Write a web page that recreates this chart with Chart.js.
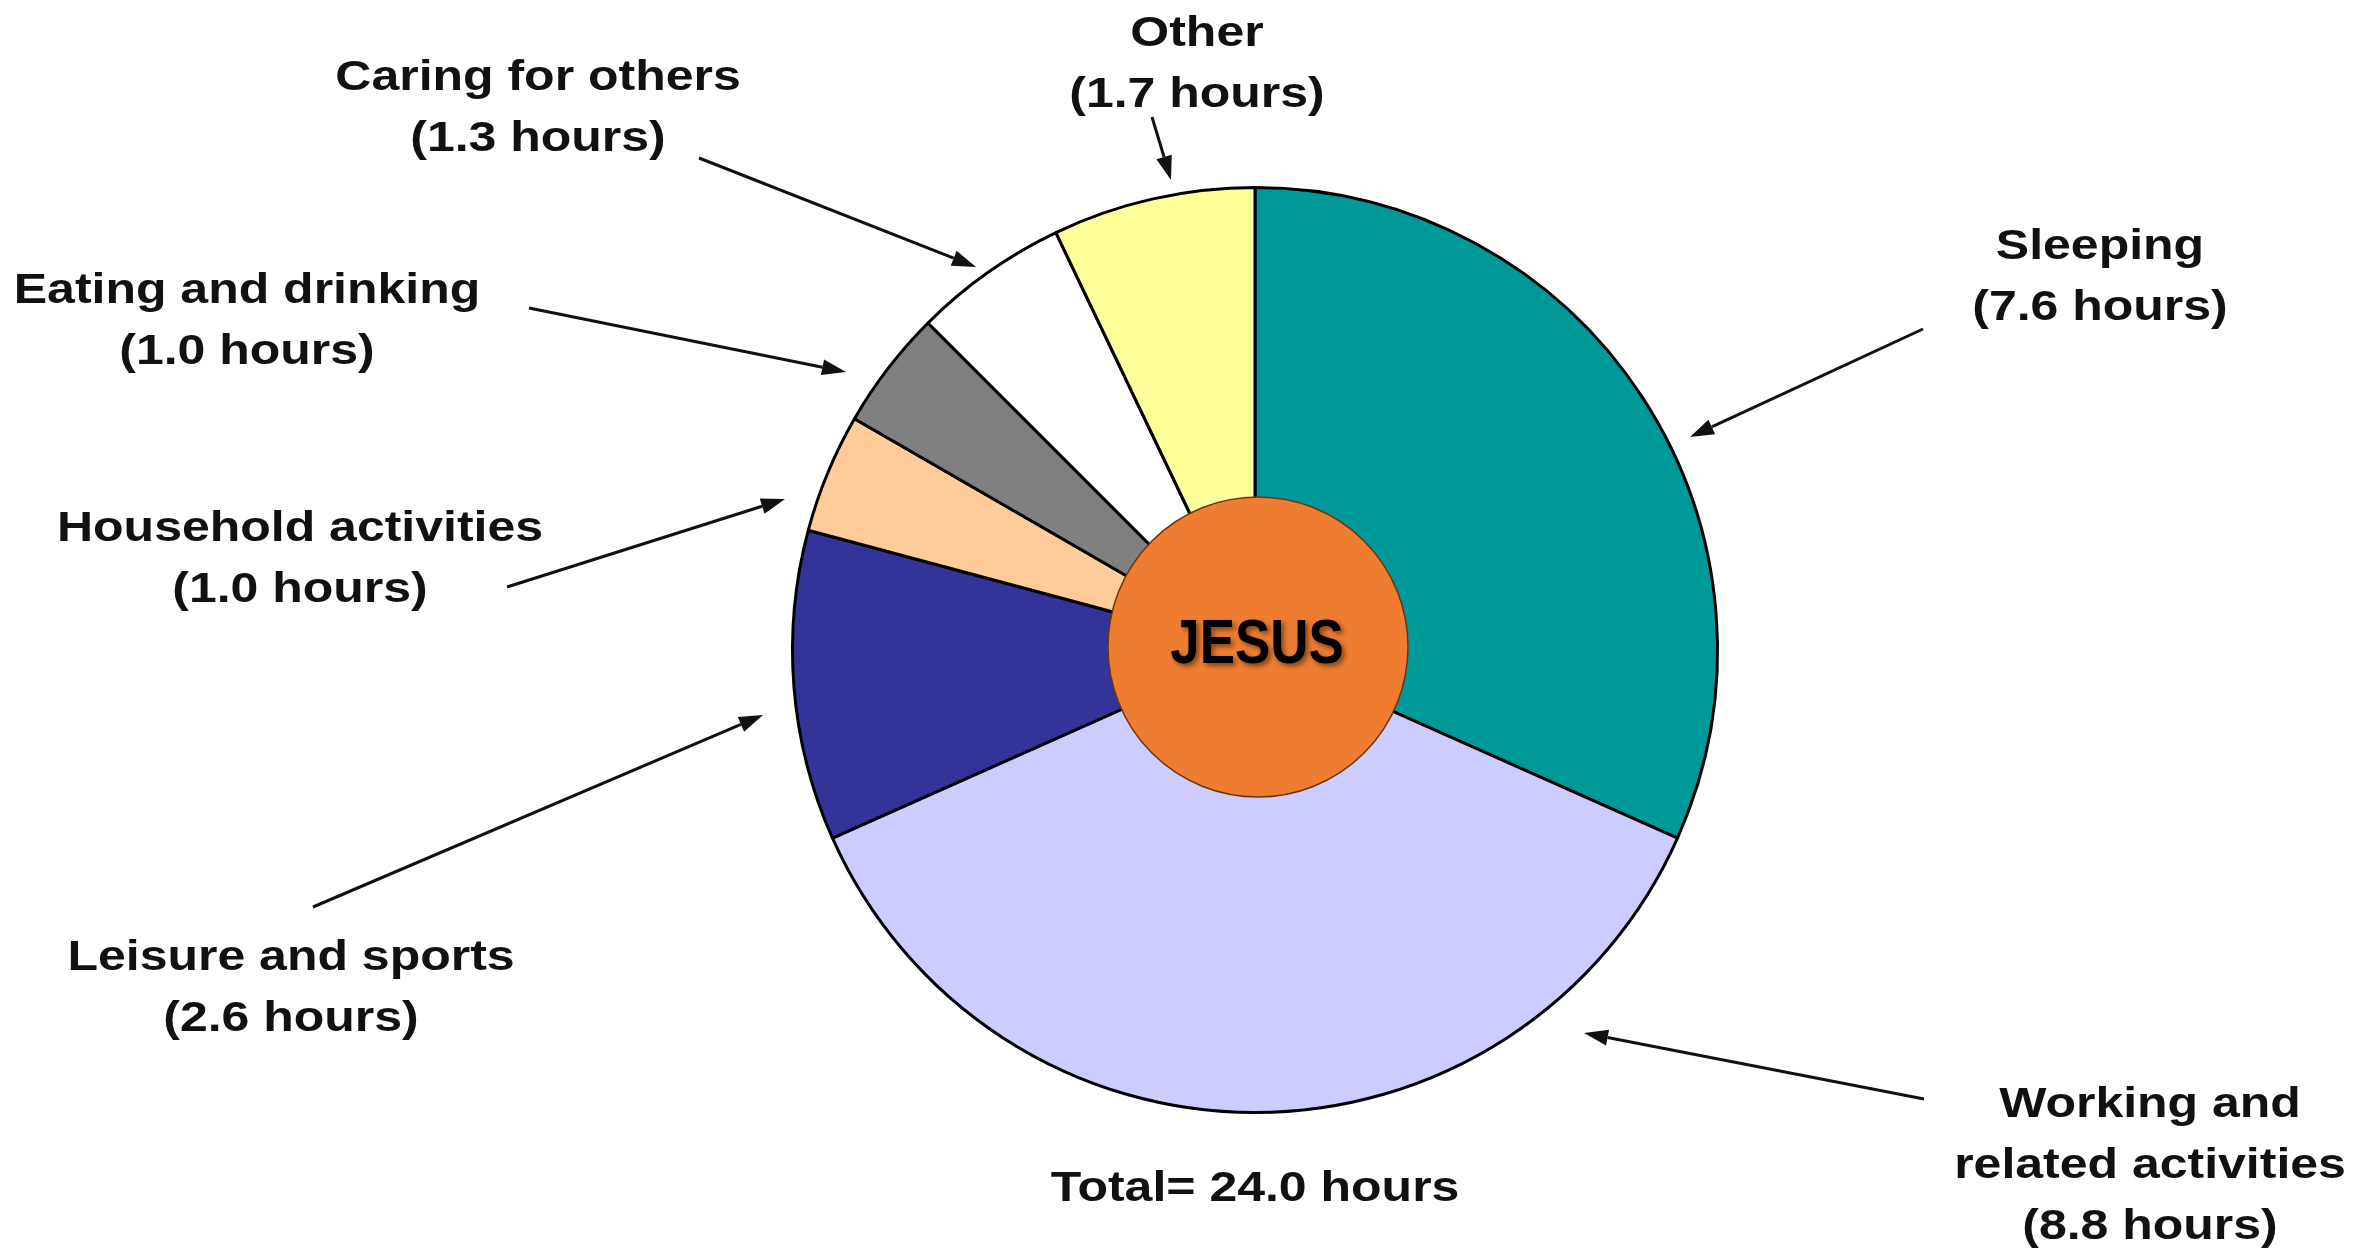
<!DOCTYPE html>
<html>
<head>
<meta charset="utf-8">
<script src="https://cdn.jsdelivr.net/npm/chart.js@4/dist/chart.umd.min.js"></script>
<style>
  html, body { margin:0; padding:0; background:#fff; }
  #wrap { width:2380px; height:1250px; position:relative; }
</style>
</head>
<body>
<div id="wrap"><canvas id="pie" width="2380" height="1250"></canvas></div>
<script>
// data, clockwise from 12 o'clock
const categories = ['Sleeping', 'Working and related activities', 'Leisure and sports',
  'Household activities', 'Eating and drinking', 'Caring for others', 'Other'];
const hours = [7.6, 8.8, 2.6, 1.0, 1.0, 1.3, 1.7];
const sliceColors = ['#009999', '#CCCCFF', '#333399', '#FFCC99', '#808080', '#FFFFFF', '#FFFF99'];
// how each label wraps on the picture
const labelLines = [['Sleeping'], ['Working and', 'related activities'], ['Leisure and sports'],
  ['Household activities'], ['Eating and drinking'], ['Caring for others'], ['Other']];
const centerText = 'JESUS';

// label placement (centre x, y of first line) and arrow from -> tip, per category
const callouts = [
  { x:2100, y:247,  from:[1923,329], to:[1690,437] },
  { x:2150, y:1105, from:[1924,1099], to:[1584,1033] },
  { x:291,  y:958,  from:[313,907],  to:[763,715] },
  { x:300,  y:529,  from:[507,587],  to:[785,499] },
  { x:247,  y:291,  from:[529,308],  to:[846,372] },
  { x:538,  y:78,   from:[699,158],  to:[976,267] },
  { x:1197, y:34,   from:[1152,117], to:[1171,180] }
];

const total = hours.reduce((a,b)=>a+b, 0);
const LINE = 61;

function drawText(ctx, txt, x, y, size, sx){
  ctx.save();
  ctx.translate(x, y);
  ctx.scale(sx, 1);
  ctx.font = 'bold ' + size + 'px "Liberation Sans", Arial, sans-serif';
  ctx.textAlign = 'center';
  ctx.textBaseline = 'middle';
  ctx.fillText(txt, 0, 0);
  ctx.restore();
}

function arrow(ctx, a, b){
  const ang = Math.atan2(b[1]-a[1], b[0]-a[0]);
  const len = 24, half = 8;
  const bx = b[0] - Math.cos(ang)*len, by = b[1] - Math.sin(ang)*len;
  ctx.beginPath();
  ctx.moveTo(a[0], a[1]);
  ctx.lineTo(bx, by);
  ctx.stroke();
  ctx.beginPath();
  ctx.moveTo(b[0], b[1]);
  ctx.lineTo(bx + Math.sin(ang)*half, by - Math.cos(ang)*half);
  ctx.lineTo(bx - Math.sin(ang)*half, by + Math.cos(ang)*half);
  ctx.closePath();
  ctx.fill();
}

const calloutPlugin = {
  id:'callouts',
  afterDatasetsDraw(chart){
    const ctx = chart.ctx;
    const arc = chart.getDatasetMeta(0).data[0];
    const cx = arc.x, cy = arc.y;

    // centre disc
    ctx.save();
    ctx.beginPath();
    ctx.arc(cx + 3, cy - 3, 150, 0, Math.PI*2);
    ctx.fillStyle = '#EE7D31';
    ctx.fill();
    ctx.lineWidth = 1.5;
    ctx.strokeStyle = '#6b3510';
    ctx.stroke();
    ctx.shadowColor = 'rgba(0,0,0,0.45)';
    ctx.shadowBlur = 5;
    ctx.shadowOffsetX = 3;
    ctx.shadowOffsetY = 3;
    ctx.fillStyle = '#000';
    drawText(ctx, centerText, cx + 2, cy - 4, 63, 0.84);
    ctx.restore();

    // labels + arrows
    ctx.save();
    ctx.fillStyle = '#111';
    ctx.strokeStyle = '#111';
    ctx.lineWidth = 3;
    categories.forEach((c, i) => {
      const co = callouts[i];
      const lines = labelLines[i].concat(['(' + hours[i].toFixed(1) + ' hours)']);
      lines.forEach((t, k) => drawText(ctx, t, co.x, co.y + k*LINE, 42, 1.19));
      arrow(ctx, co.from, co.to);
    });
    drawText(ctx, 'Total= ' + total.toFixed(1) + ' hours', 1255, 1189, 42, 1.19);
    ctx.restore();
  }
};

new Chart(document.getElementById('pie'), {
  type:'pie',
  data:{
    labels:categories,
    datasets:[{ data:hours, backgroundColor:sliceColors, borderColor:'#000', borderWidth:3 }]
  },
  options:{
    responsive:false,
    animation:false,
    devicePixelRatio:1,
    layout:{ padding:{ left:400, right:270, top:186, bottom:136 } },
    plugins:{ legend:{ display:false }, tooltip:{ enabled:false } }
  },
  plugins:[calloutPlugin]
});
</script>
</body>
</html>
